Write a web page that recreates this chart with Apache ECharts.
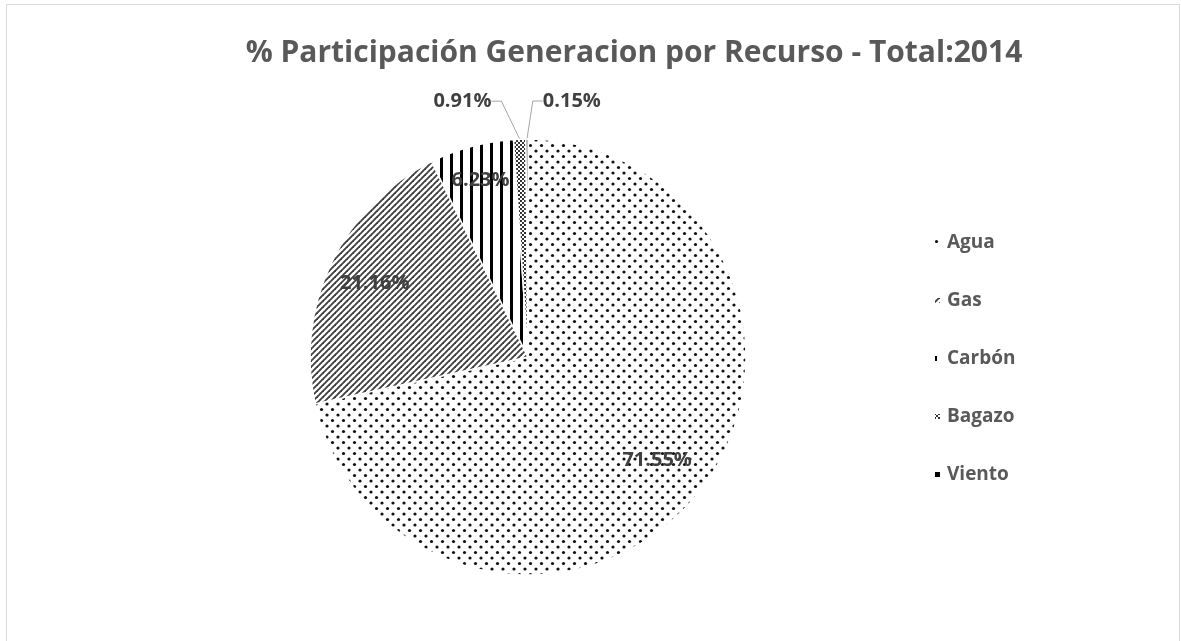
<!DOCTYPE html>
<html>
<head>
<meta charset="utf-8">
<script src="https://cdn.jsdelivr.net/npm/echarts@6/dist/echarts.min.js"></script>
<style>
  html, body { margin: 0; padding: 0; background: #fff; }
  #main { width: 1181px; height: 641px; }
</style>
</head>
<body>
<div id="main"></div>
<script>
// data
const recursos = ['Agua', 'Gas', 'Carbón', 'Bagazo', 'Viento'];
const participacion = [71.55, 21.16, 6.23, 0.91, 0.15];
const titulo = '% Participación Generacion por Recurso - Total:2014';

// pie geometry
const cx = 528, cy = 357, R = 218;
// where each inside label sits, as a fraction of the radius
const labelFrac = [0.76, 0.78, 0.84, null, null];

function pattern(w, h, draw) {
  const c = document.createElement('canvas');
  c.width = w; c.height = h;
  const g = c.getContext('2d');
  g.fillStyle = '#fff';
  g.fillRect(0, 0, w, h);
  draw(g);
  return { image: c, repeat: 'repeat' };
}

const fills = [
  // Agua: staggered dots
  pattern(11, 11, function (g) {
    g.fillStyle = '#111';
    [[2.5, 2.5], [8, 8]].forEach(function (p) {
      g.beginPath(); g.arc(p[0], p[1], 1.6, 0, Math.PI * 2); g.fill();
    });
  }),
  // Gas: wide upward diagonal
  pattern(6, 6, function (g) {
    g.strokeStyle = '#404040';
    g.lineWidth = 1.9;
    [[-1, 7, 7, -1], [-1, 1, 1, -1], [5, 7, 7, 5]].forEach(function (l) {
      g.beginPath(); g.moveTo(l[0], l[1]); g.lineTo(l[2], l[3]); g.stroke();
    });
  }),
  // Carbón: vertical bars
  pattern(10, 4, function (g) {
    g.fillStyle = '#000';
    g.fillRect(0, 0, 3, 4);
  }),
  // Bagazo: small checker
  pattern(4, 4, function (g) {
    g.fillStyle = '#333';
    g.fillRect(0, 0, 2, 2);
    g.fillRect(2, 2, 2, 2);
  }),
  '#000'
];

const total = participacion.reduce(function (a, b) { return a + b; }, 0);
function midAngle(i) {
  let before = 0;
  for (let k = 0; k < i; k++) before += participacion[k];
  return (before + participacion[i] / 2) / total * Math.PI * 2;
}

const chart = echarts.init(document.getElementById('main'));

const option = {
  backgroundColor: '#fff',
  animation: false,
  title: {
    text: titulo,
    left: 629,
    top: 33,
    textAlign: 'center',
    textStyle: { fontFamily: 'Open Sans', fontWeight: 'bold', fontSize: 30, color: '#595959' }
  },
  legend: {
    orient: 'vertical',
    left: 928,
    top: 228,
    itemWidth: 7,
    itemHeight: 7,
    itemGap: 39,
    icon: 'rect',
    textStyle: { fontFamily: 'Open Sans', fontWeight: 'bold', fontSize: 19, color: '#595959', padding: [0, 0, 0, 1] },
    data: recursos
  },
  graphic: [{
    type: 'rect',
    shape: { x: 6.5, y: 4.5, width: 1173, height: 660 },
    style: { fill: 'none', stroke: '#d9d9d9', lineWidth: 1 },
    silent: true
  }],
  series: [{
    type: 'pie',
    center: [cx, cy],
    radius: R,
    startAngle: 90,
    clockwise: true,
    avoidLabelOverlap: false,
    itemStyle: { borderColor: '#fff', borderWidth: 1.5 },
    label: {
      fontFamily: 'Open Sans',
      fontWeight: 'bold',
      fontSize: 20,
      color: '#404040',
      formatter: function (p) { return p.value.toFixed(2) + '%'; }
    },
    labelLine: {
      lineStyle: { color: '#a6a6a6', width: 1 }
    },
    labelLayout: function (p) {
      const i = p.dataIndex;
      const a = midAngle(i);
      if (labelFrac[i] != null) {
        return {
          x: cx + labelFrac[i] * R * Math.sin(a),
          y: cy - labelFrac[i] * R * Math.cos(a),
          align: 'center',
          verticalAlign: 'middle'
        };
      }
      // small slices: label beside the leader line, Bagazo left, Viento right
      const ex = cx + (R + 34) * Math.sin(a);
      const ey = cy - (R + 34) * Math.cos(a);
      return i === 3
        ? { x: ex - 27, y: ey - 4, align: 'right', verticalAlign: 'middle' }
        : { x: ex + 16, y: ey - 4, align: 'left', verticalAlign: 'middle' };
    },
    data: recursos.map(function (name, i) {
      const inside = labelFrac[i] != null;
      return {
        name: name,
        value: participacion[i],
        itemStyle: { color: fills[i] },
        label: { position: inside ? 'inside' : 'outside' },
        labelLine: { show: !inside, length: 34, length2: 10 }
      };
    })
  }]
};

chart.setOption(option);
</script>
</body>
</html>
